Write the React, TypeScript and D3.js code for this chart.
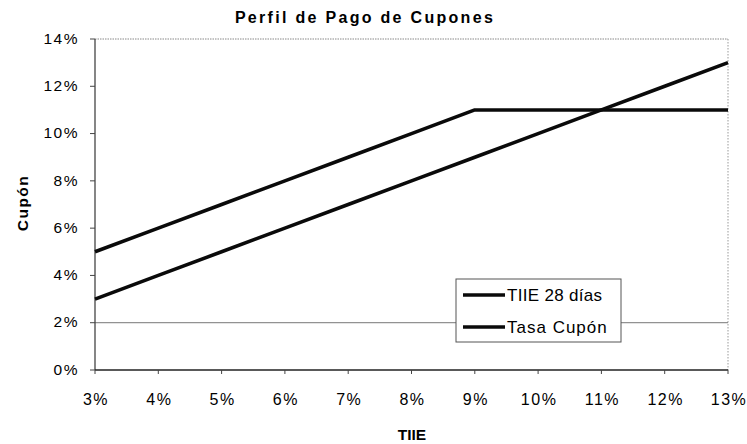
import * as d3 from "d3";

const tiieValues = [3, 4, 5, 6, 7, 8, 9, 10, 11, 12, 13];
const tiie28 = [3, 4, 5, 6, 7, 8, 9, 10, 11, 12, 13];
const tasaCupon = [5, 6, 7, 8, 9, 10, 11, 11, 11, 11, 11];
const yTicks = [0, 2, 4, 6, 8, 10, 12, 14];
const seriesNames = ["TIIE 28 días", "Tasa Cupón"];

const width = 747;
const height = 444;
const margin = { top: 39, right: 19, bottom: 74, left: 95 };

const App = () => {
  const x = d3
    .scaleLinear()
    .domain([3, 13])
    .range([margin.left, width - margin.right]);
  const y = d3
    .scaleLinear()
    .domain([0, 14])
    .range([height - margin.bottom, margin.top]);

  const line = d3
    .line<[number, number]>()
    .x((d) => x(d[0]))
    .y((d) => y(d[1]));

  const series = [tiie28, tasaCupon].map((vals) =>
    tiieValues.map((t, i) => [t, vals[i]] as [number, number])
  );

  const font = "Liberation Sans, Arial, sans-serif";
  const legendX = 456;
  const legendY = 279;

  return (
    <svg
      width={width}
      height={height}
      style={{ position: "absolute", left: 0, top: 0, background: "#fff" }}
      fontFamily={font}
    >
      <text
        x={365}
        y={23}
        textAnchor="middle"
        fontSize={16}
        fontWeight="bold"
        letterSpacing={2.3}
      >
        Perfil de Pago de Cupones
      </text>

      {/* plot border (dotted top/right) */}
      <line
        x1={x(3)}
        x2={x(13)}
        y1={y(14)}
        y2={y(14)}
        stroke="#888"
        strokeDasharray="1.5 1"
      />
      <line
        x1={x(13)}
        x2={x(13)}
        y1={y(14)}
        y2={y(0)}
        stroke="#999"
        strokeDasharray="1.5 1.5"
      />
      {/* 2% gridline */}
      <line x1={x(3)} x2={x(13)} y1={y(2)} y2={y(2)} stroke="#777" strokeWidth={1} />

      {/* axes */}
      <line x1={x(3)} x2={x(3)} y1={y(14)} y2={y(0)} stroke="#444" strokeWidth={1.3} />
      <line x1={x(3)} x2={x(13)} y1={y(0)} y2={y(0)} stroke="#222" strokeWidth={1.3} />

      {yTicks.map((t) => (
        <g key={"y" + t}>
          <line x1={x(3) - 5} x2={x(3)} y1={y(t)} y2={y(t)} stroke="#444" />
          <text
            x={79}
            y={y(t)}
            dy="0.3em"
            textAnchor="end"
            fontSize={15.5}
            letterSpacing={1.5}
          >
            {t + "%"}
          </text>
        </g>
      ))}

      {tiieValues.map((t) => (
        <g key={"x" + t}>
          <line x1={x(t)} x2={x(t)} y1={y(0)} y2={y(0) + 4} stroke="#444" />
          <text
            x={x(t) + 1}
            y={405}
            textAnchor="middle"
            fontSize={16}
            letterSpacing={1.5}
          >
            {t + "%"}
          </text>
        </g>
      ))}

      <text x={412} y={440} textAnchor="middle" fontSize={15.5} fontWeight="bold">
        TIIE
      </text>
      <text
        transform="translate(28,203) rotate(-90)"
        textAnchor="middle"
        fontSize={15.5}
        fontWeight="bold"
        letterSpacing={1.5}
      >
        Cupón
      </text>

      {series.map((s, i) => (
        <path
          key={i}
          d={line(s) ?? ""}
          fill="none"
          stroke="#0a0a0a"
          strokeWidth={3.6}
          strokeLinejoin="round"
        />
      ))}

      {/* legend */}
      <rect
        x={legendX}
        y={legendY}
        width={165}
        height={63}
        fill="#fff"
        stroke="#555"
        strokeWidth={1}
      />
      {seriesNames.map((name, i) => (
        <g key={name} transform={`translate(${legendX},${legendY + 16 + i * 32})`}>
          <line x1={7} x2={49} y1={0} y2={0} stroke="#0a0a0a" strokeWidth={3.6} />
          <text x={51} y={0} dy="0.36em" fontSize={17} letterSpacing={i === 1 ? 1 : 0.3}>
            {name}
          </text>
        </g>
      ))}
    </svg>
  );
};

export default App;
